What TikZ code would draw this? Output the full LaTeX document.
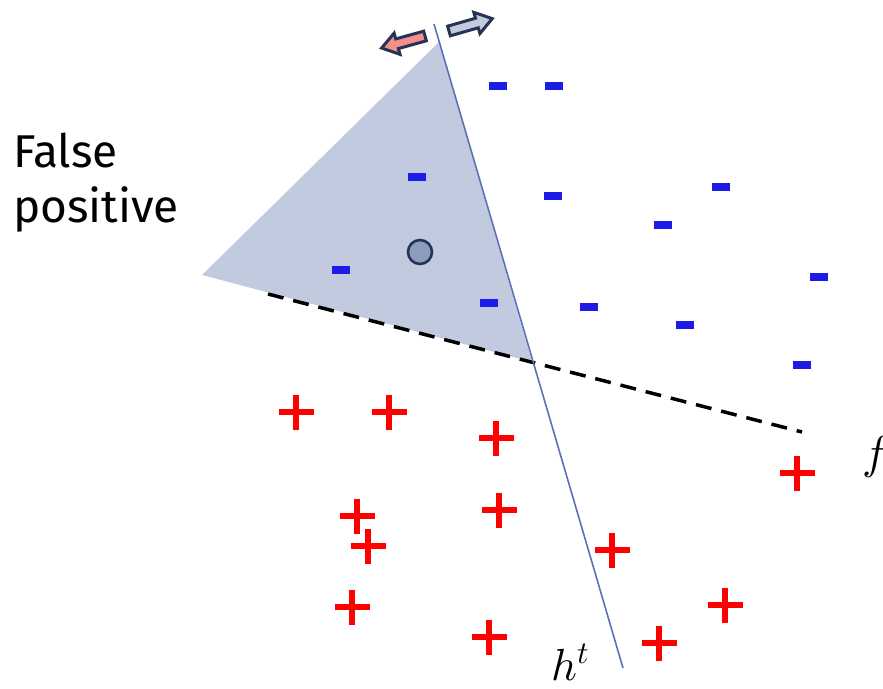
\documentclass[tikz,border=0pt]{standalone}
\usepackage{fontspec}
\usepackage{unicode-math}
\setmainfont{Fira Sans}
\setmathfont{Latin Modern Math}
\begin{document}
\begin{tikzpicture}[x=1pt,y=-1pt,
  minussign/.pic={\fill[minusblue] (-9,-4) rectangle (9,4);},
  plussign/.pic={\fill[plusred] (-17.5,-3) rectangle (17.5,3); \fill[plusred] (-3,-17.5) rectangle (3,17.5);},
  blockarrow/.pic={\draw[line width=3pt, draw=arrowedge, fill=#1, line join=miter]
     (0,-5) -- (29,-5) -- (29,-11) -- (45,0) -- (29,11) -- (29,5) -- (0,5) -- cycle;},
  lbl/.style={inner sep=0pt}
]
\definecolor{minusblue}{HTML}{1C1CE6}
\definecolor{plusred}{HTML}{FF0000}
\definecolor{arrowedge}{HTML}{263354}
\definecolor{regionfill}{HTML}{C2CAE0}
\definecolor{linehue}{HTML}{5A72B5}
\definecolor{pinkfill}{HTML}{F4908E}
\definecolor{dotfill}{HTML}{8C9DC0}
\useasboundingbox (0,0) rectangle (883,688);
% shaded region
\fill[regionfill] (439,42) -- (202,275) -- (532,362) -- cycle;
% dashed classifier f
\coordinate (fa) at (268,294);
\coordinate (fb) at (802,432);
\draw[line width=3.5pt, dash pattern=on 16pt off 10pt] (fa) -- (fb);
% classifier h^t
\coordinate (ha) at (434,24);
\coordinate (hb) at (623,668);
\draw[linehue, line width=1.6pt] (ha) -- (hb);
% point
\node[circle, draw=arrowedge, fill=dotfill, line width=2.6pt, minimum size=24pt, inner sep=0pt] (pt) at (420,252) {};
% arrows
\pic[rotate=195.5] at (425,36) {blockarrow=pinkfill};
\pic[rotate=16] at (449,31) {blockarrow=regionfill};
% minus signs
\foreach \p in {(498,86),(554,86),(417,177),(553,196),(721,187),(663,225),(341,270),(489,303),(589,307),(685,325),(819,277),(802,365)}
  \pic at \p {minussign};
% plus signs
\foreach \p in {(296,412),(389,412),(496,438),(357,516),(499,510),(368,546),(612,550),(352,607),(725,605),(489,637),(659,643),(797,473)}
  \pic at \p {plussign};
% labels
\node[lbl, anchor=base west, font=\fontsize{46}{52}\selectfont] (t1) at (13,167) {False};
\node[lbl, anchor=base west, font=\fontsize{46}{52}\selectfont] (t2) at (13,222) {positive};
\node[lbl, anchor=base west, font=\fontsize{46}{50}\selectfont] (flab) at (862,468) {$f$};
\node[lbl, anchor=base west, font=\fontsize{45}{50}\selectfont] (hlab) at (551,680) {$h^{t}$};
\end{tikzpicture}
\end{document}
